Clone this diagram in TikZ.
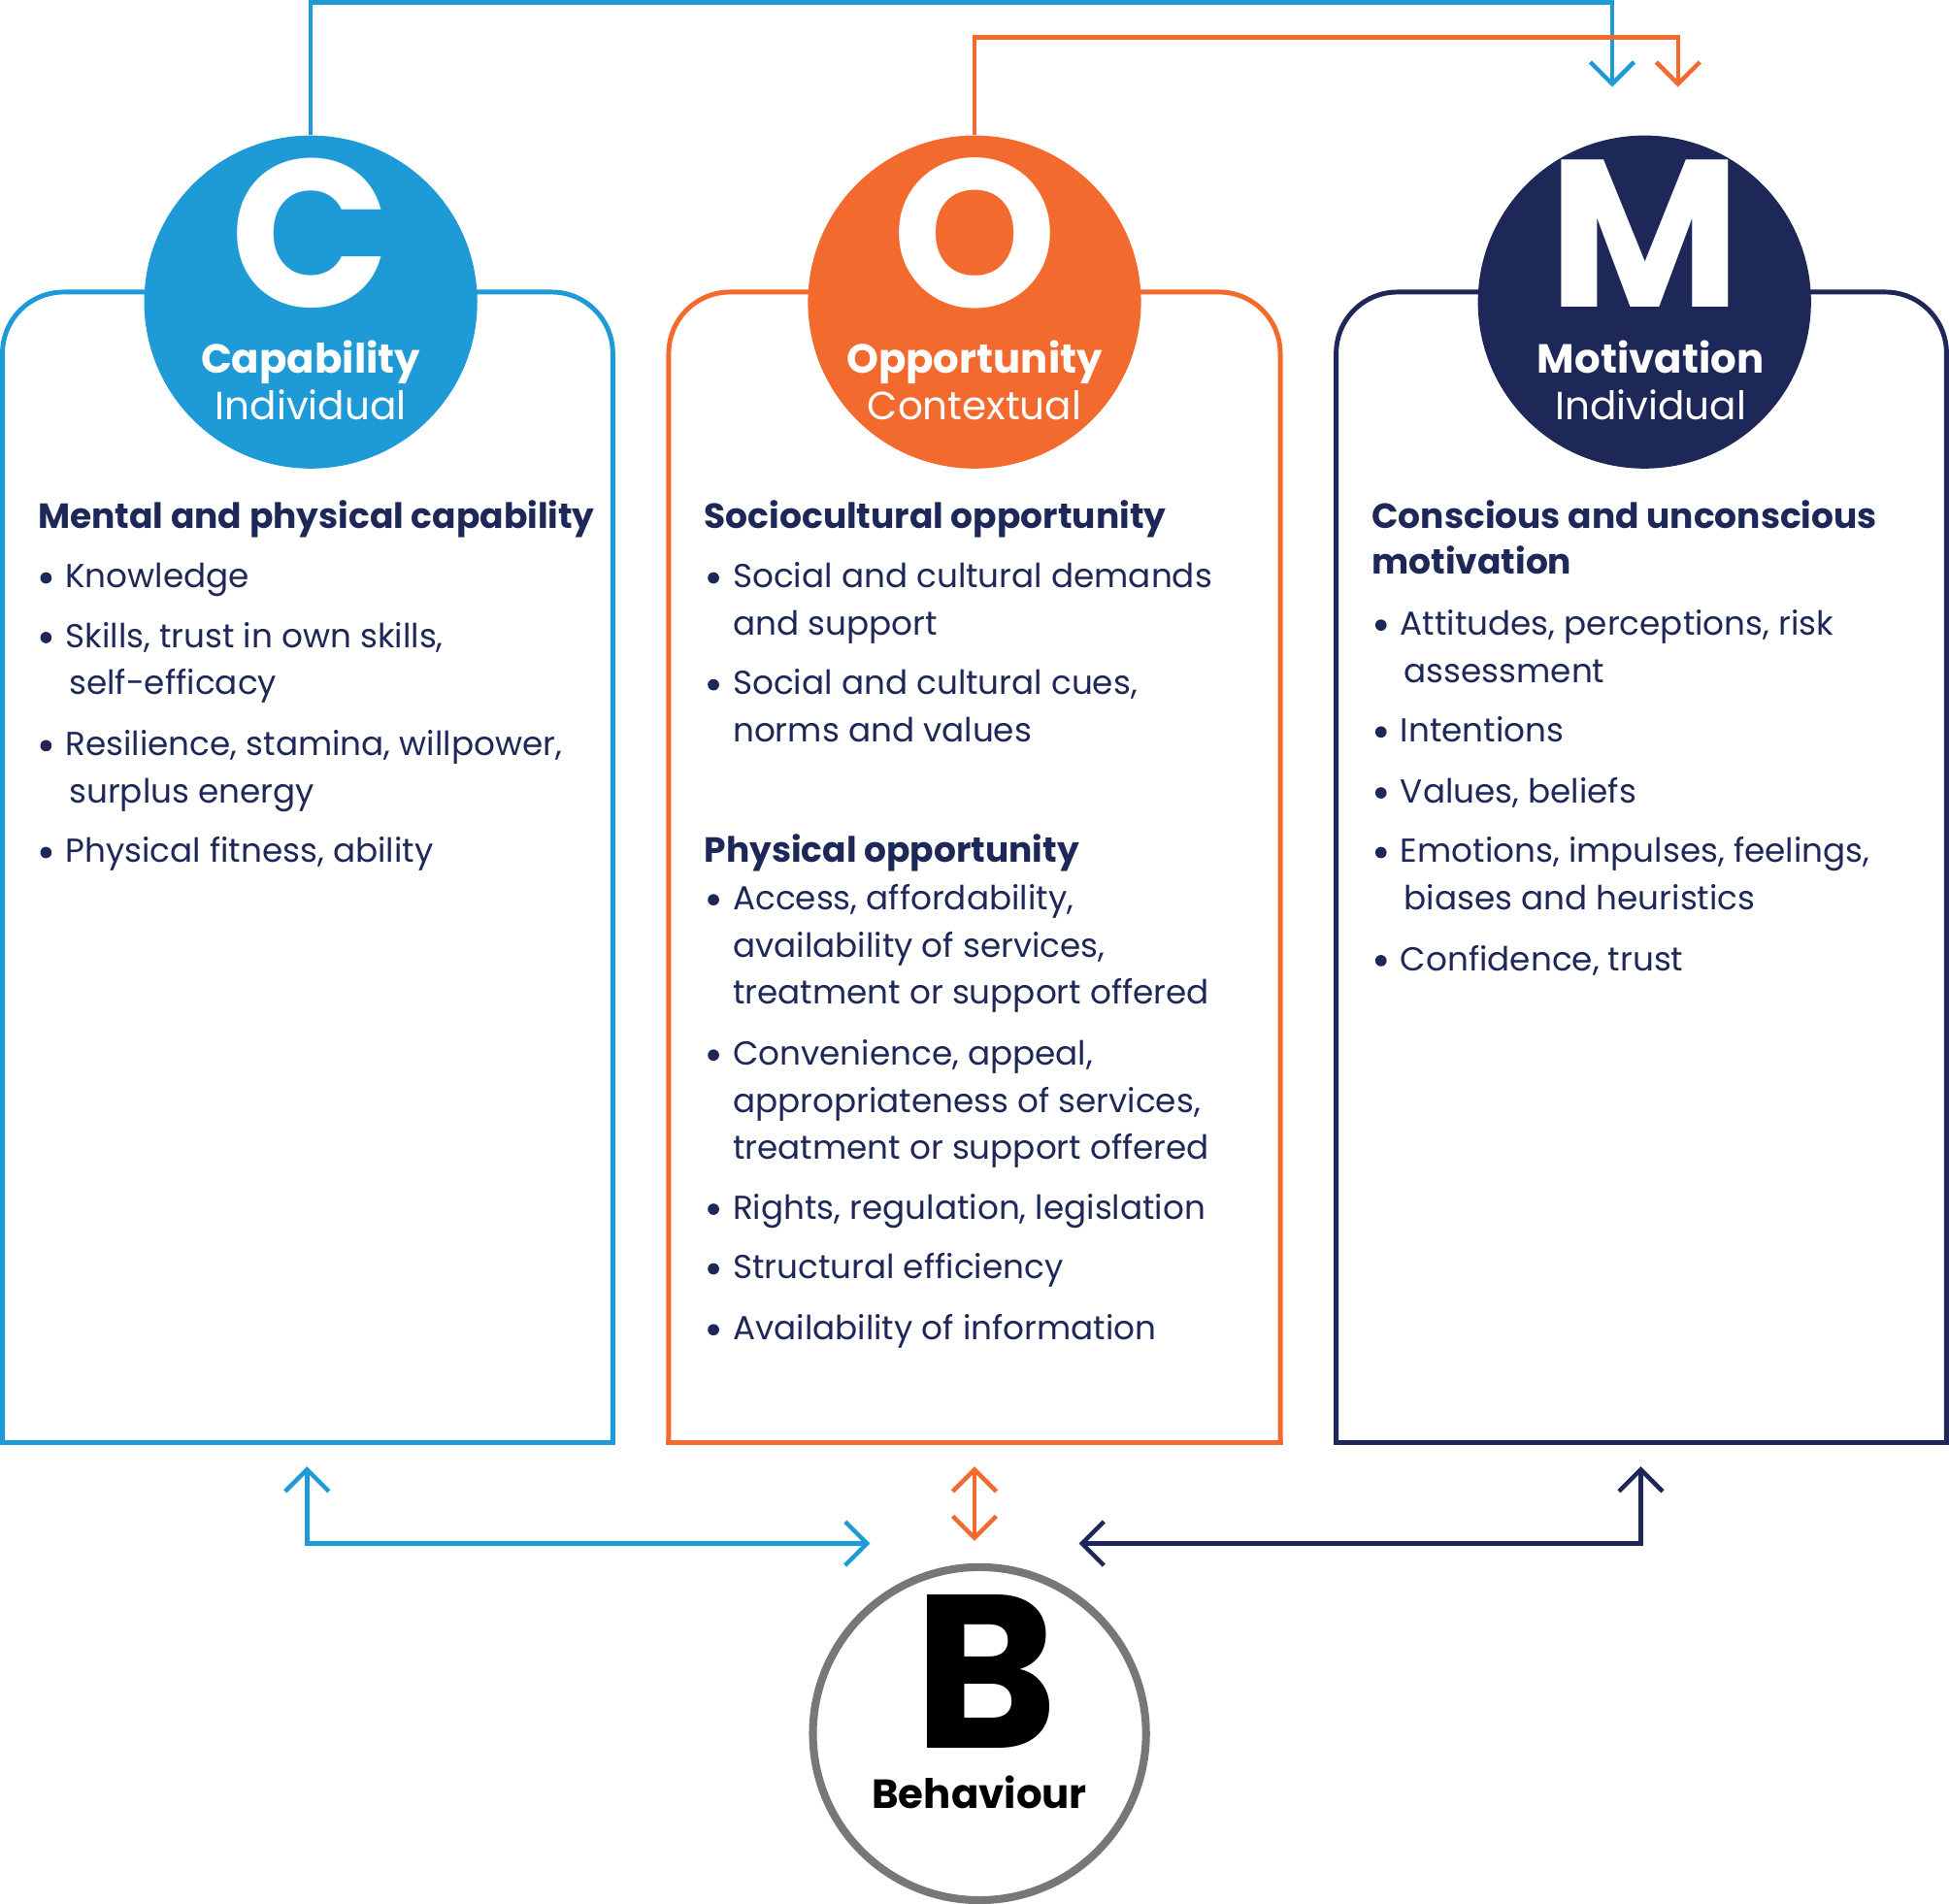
\documentclass[tikz,border=0pt]{standalone}
\usepackage{fontspec}
\setmainfont{Poppins}
\usetikzlibrary{arrows.meta}
\definecolor{cblue}{HTML}{1E9BD7}
\definecolor{corange}{HTML}{F26A2E}
\definecolor{cnavy}{HTML}{1D2858}
\definecolor{cgray}{HTML}{777777}
\begin{document}
\begin{tikzpicture}[x=0.01cm,y=-0.01cm,
  box/.style={line width=1.1pt,rounded corners=14pt},
  edge/.style={line width=1.1pt,line cap=rect},
  circ/.style={circle,minimum size=268*0.01cm,inner sep=0pt},
  big/.style={font=\fontsize{48}{48}\selectfont\bfseries,text=white,anchor=center,inner sep=0pt},
  ctitle/.style={font=\fontsize{9.3}{11}\selectfont\bfseries,text=white,anchor=base,inner sep=0pt},
  csub/.style={font=\fontsize{9}{11}\selectfont,text=white,anchor=base,inner sep=0pt},
  hd/.style={font=\fontsize{8}{10}\selectfont\bfseries,text=cnavy,anchor=base west,inner sep=0pt},
  tx/.style={font=\fontsize{7.6}{10}\selectfont,text=cnavy,anchor=base west,inner sep=0pt},
  bl/.style={fill=cnavy,circle,inner sep=0pt,minimum size=2.6pt},
  ar/.style={line width=1pt,-{Straight Barb[length=5pt,width=10pt]}},
  dar/.style={line width=1pt,{Straight Barb[length=5pt,width=10pt]}-{Straight Barb[length=5pt,width=10pt]}}]
\useasboundingbox (0,0) rectangle (1568,1532);
% boxes
\draw[box,cblue] (2,1161) -- (2,235) -- (493,235) -- (493,1161);
\draw[box,corange] (538,1161) -- (538,235) -- (1030,235) -- (1030,1161);
\draw[box,cnavy] (1075,1161) -- (1075,235) -- (1566,235) -- (1566,1161);
\draw[edge,cblue] (2,1161) -- (493,1161);
\draw[edge,corange] (538,1161) -- (1030,1161);
\draw[edge,cnavy] (1075,1161) -- (1566,1161);
% circles
\node[circ,fill=cblue] (C) at (250,243) {};
\node[circ,fill=corange] (O) at (784,243) {};
\node[circ,fill=cnavy] (M) at (1323,243) {};
\node[circ,draw=cgray,line width=1.8pt,fill=white] (B) at (788,1395) {};
\node[big] (Cl) at (250,188) {C};
\node[big] (Ol) at (784,188) {O};
\node[big] (Ml) at (1323,188) {M};
\node[big,text=black,font=\fontsize{50}{50}\selectfont\bfseries] (Bl) at (793,1345) {B};
\node[ctitle] (Ct) at (250,300) {Capability};
\node[csub] (Cs) at (250,338) {Individual};
\node[ctitle] (Ot) at (784,300) {Opportunity};
\node[csub] (Os) at (784,338) {Contextual};
\node[ctitle] (Mt) at (1328,300) {Motivation};
\node[csub] (Ms) at (1328,338) {Individual};
\node[ctitle,text=black] (Bt) at (788,1455) {Behaviour};
% top connectors
\coordinate (ca) at (1297,70);
\coordinate (oa) at (1350,70);
\draw[ar,cblue] (C.north) |- (1297,2) -- (ca);
\draw[ar,corange] (O.north) |- (1350,30) -- (oa);
% bottom connectors
\coordinate (cb) at (247,1180);
\coordinate (ob) at (784,1180);
\coordinate (mb) at (1320,1180);
\coordinate (bl) at (700,1242);
\coordinate (bt) at (784,1240);
\coordinate (br) at (868,1242);
\draw[dar,cblue] (cb) |- (bl);
\draw[dar,corange] (ob) -- (bt);
\draw[dar,cnavy] (mb) |- (br);
% C text
\node[hd] (ch) at (30,425) {Mental and physical capability};
\foreach \y/\t/\n in {473/Knowledge/c1,521/{Skills, trust in own skills,}/c2,608/{Resilience, stamina, willpower,}/c3,694/{Physical fitness, ability}/c4}
  {\node[tx] (\n) at (52,\y) {\t}; \node[bl] (\n b) at (37,\y-8) {};}
\node[tx] (c2a) at (55,559) {self-efficacy};
\node[tx] (c3a) at (55,646) {surplus energy};
% O text
\node[hd] (oh) at (566,425) {Sociocultural opportunity};
\node[hd] (oh2) at (566,694) {Physical opportunity};
\foreach \y/\t/\n in {473/{Social and cultural demands}/o1,559/{Social and cultural cues,}/o2,732/{Access, affordability,}/o3,857/{Convenience, appeal,}/o4,981/{Rights, regulation, legislation}/o5,1029/{Structural efficiency}/o6,1078/{Availability of information}/o7}
  {\node[tx] (\n) at (589,\y) {\t}; \node[bl] (\n b) at (574,\y-8) {};}
\foreach \y/\t/\n in {511/{and support}/o1a,597/{norms and values}/o2a,770/{availability of services,}/o3a,808/{treatment or support offered}/o3b,895/{appropriateness of services,}/o4a,933/{treatment or support offered}/o4b}
  {\node[tx] (\n) at (589,\y) {\t};}
% M text
\node[hd] (mh) at (1103,425) {Conscious and unconscious};
\node[hd] (mh2) at (1103,462) {motivation};
\foreach \y/\t/\n in {511/{Attitudes, perceptions, risk}/m1,597/{Intentions}/m2,646/{Values, beliefs}/m3,694/{Emotions, impulses, feelings,}/m4,781/{Confidence, trust}/m5}
  {\node[tx] (\n) at (1126,\y) {\t}; \node[bl] (\n b) at (1111,\y-8) {};}
\node[tx] (m1a) at (1129,549) {assessment};
\node[tx] (m4a) at (1129,732) {biases and heuristics};
\end{tikzpicture}
\end{document}
